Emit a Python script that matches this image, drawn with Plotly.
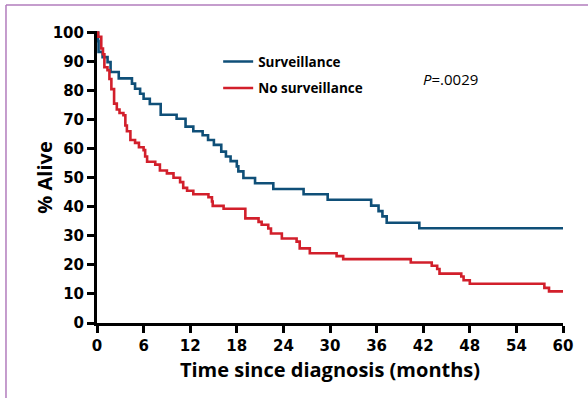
import plotly.graph_objects as go

# Kaplan-Meier step data (month, % alive after the step)
surv_t = [0, 0.13, 0.2, 0.72, 1.36, 1.75, 2.8, 4.5, 4.9, 5.55, 6.0, 6.8, 8.2, 10.25, 11.4,
          12.4, 13.6, 14.3, 15.05, 16.0, 16.6, 17.2, 18.0, 18.2, 18.85, 20.35, 22.7, 26.6,
          29.7, 35.3, 36.25, 36.75, 37.3, 41.5, 60]
surv_s = [100, 97, 93.3, 91.5, 89.8, 86.4, 84.2, 82.4, 80.6, 78.9, 77.2, 75.4, 71.7, 70.3, 67.6,
          66.0, 64.6, 63.0, 61.3, 59.0, 57.3, 55.7, 53.9, 52.2, 49.9, 48.1, 46.1, 44.3,
          42.4, 40.4, 38.5, 36.7, 34.5, 32.6, 32.6]

nosurv_t = [0, 0.15, 0.55, 0.77, 0.95, 1.35, 1.6, 1.85, 2.2, 2.55, 2.9, 3.4, 3.65, 3.85, 4.3,
            4.9, 5.4, 6.0, 6.2, 6.45, 7.5, 8.1, 9.0, 9.85, 10.7, 11.1, 11.6, 12.4, 14.35,
            14.8, 14.9, 16.3, 19.1, 20.8, 21.2, 22.05, 22.4, 23.8, 25.7, 26.1, 27.4, 30.85,
            31.7, 40.4, 43.1, 43.8, 44.1, 46.9, 47.2, 48.0, 57.6, 58.2, 60]
nosurv_s = [100, 98.5, 94.5, 92.5, 88, 87, 84, 80.5, 75.5, 73.5, 72.3, 71.5, 68, 66, 63,
            62, 60.5, 59.5, 57.3, 55.5, 54.5, 52.5, 51.5, 50, 48.5, 46.5, 45.5, 44.3, 43.3,
            41.8, 40.3, 39.3, 36, 34.8, 33.8, 32.5, 30.8, 29.1, 28, 25.7, 24, 23,
            22, 20.8, 19.7, 18.6, 17, 16, 14.7, 13.5, 12.1, 10.9, 10.9]

x_ticks = [0, 6, 12, 18, 24, 30, 36, 42, 48, 54, 60]
y_ticks = [0, 10, 20, 30, 40, 50, 60, 70, 80, 90, 100]

BLUE = "#0f4f78"
RED = "#d21f2b"
TICKFONT = "DejaVu Sans"
FONT = "Open Sans"

fig = go.Figure()
fig.add_trace(go.Scatter(x=surv_t, y=surv_s, mode="lines", line_shape="hv",
                         line=dict(color=BLUE, width=2.6), name="Surveillance",
                         legendgroup="a"))
fig.add_trace(go.Scatter(x=nosurv_t, y=nosurv_s, mode="lines", line_shape="hv",
                         line=dict(color=RED, width=2.6), name="No surveillance",
                         legendgroup="b"))

axis_common = dict(showgrid=False, zeroline=False, showline=True, linecolor="black",
                   linewidth=3, ticks="outside", ticklen=7, tickwidth=3, tickcolor="black",
                   tickfont=dict(family=TICKFONT, size=15, color="black", weight="bold"))

fig.update_xaxes(range=[0, 60], tickvals=x_ticks,
                 title=dict(text="<b>Time since diagnosis (months)</b>", standoff=9,
                            font=dict(family=FONT, size=20, color="black")),
                 **axis_common)
fig.update_yaxes(range=[0, 100.5], tickvals=y_ticks, **axis_common)

# y-axis title placed as rotated text
fig.add_annotation(text="<b>% Alive</b>", x=-0.112, y=0.497, xref="paper", yref="paper",
                   xanchor="center", yanchor="middle", textangle=-90, showarrow=False,
                   font=dict(family=FONT, size=20, color="black"))

fig.add_annotation(text="<i>P</i>=.0029", x=0.696, y=0.835, xref="paper", yref="paper",
                   xanchor="left", yanchor="middle", showarrow=False,
                   font=dict(family=FONT, size=15, color="black"))

# frame lines of the surrounding figure panel
FRAME = "#b27cbd"
fig.add_shape(type="line", xref="paper", yref="paper", x0=-0.1953, x1=-0.1953,
              y0=-0.4, y1=1.089, line=dict(color=FRAME, width=1.5))
fig.add_shape(type="line", xref="paper", yref="paper", x0=-0.1953, x1=1.2,
              y0=1.089, y1=1.089, line=dict(color=FRAME, width=1.5))

fig.update_layout(
    width=588, height=398,
    margin=dict(l=97, r=25, t=31, b=75),
    plot_bgcolor="white", paper_bgcolor="white",
    showlegend=True,
    legend=dict(x=0.26, y=0.948, xanchor="left", yanchor="top",
                bgcolor="rgba(0,0,0,0)", traceorder="grouped", tracegroupgap=6,
                font=dict(family=FONT, size=13.5, color="black", weight="bold")),
)

fig.write_html("out.html", config={"displayModeBar": False},
               post_script="document.body.style.margin='0';")
